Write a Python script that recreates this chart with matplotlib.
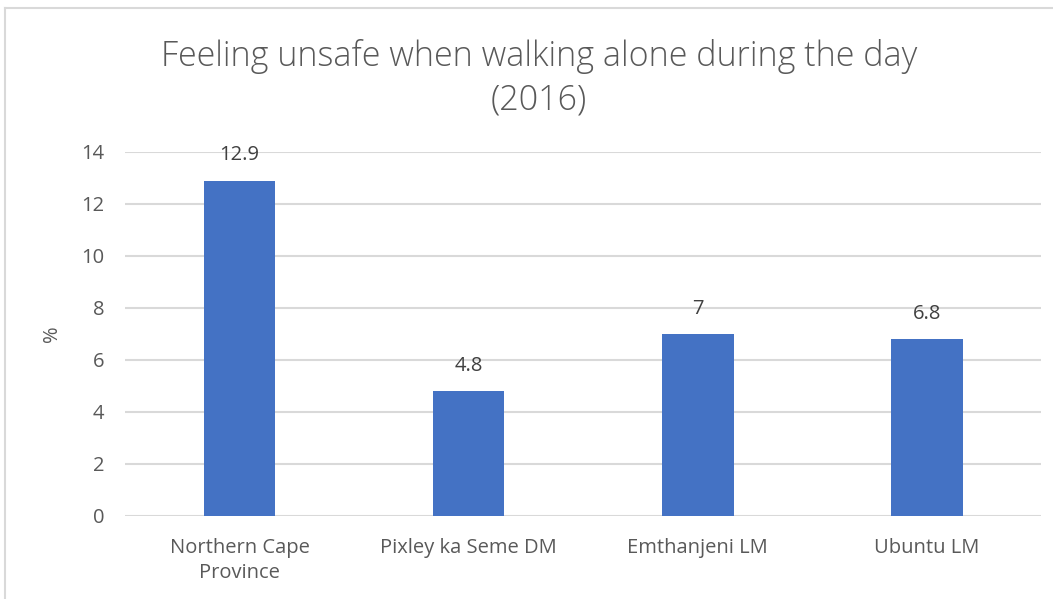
import matplotlib.pyplot as plt
from matplotlib.lines import Line2D

plt.rcParams['font.family'] = ['Open Sans', 'DejaVu Sans']

# Data
categories = ['Northern Cape\nProvince', 'Pixley ka Seme DM', 'Emthanjeni LM', 'Ubuntu LM']
values = [12.9, 4.8, 7, 6.8]
value_labels = ['12.9', '4.8', '7', '6.8']
yticks = [0, 2, 4, 6, 8, 10, 12, 14]

text_color = '#595959'
grid_color = '#d9d9d9'
bar_color = '#4472c4'
fs = 14.5

fig = plt.figure(figsize=(10.53, 5.99), dpi=100)
ax = fig.add_axes([0.1187, 0.1386, 0.870, 0.6077])

x = range(len(categories))
bars = ax.bar(x, values, width=0.314, color=bar_color, zorder=3)

for b, lab in zip(bars, value_labels):
    ax.annotate(lab, (b.get_x() + b.get_width() / 2, b.get_height()),
                xytext=(0, 11), textcoords='offset points',
                ha='center', va='bottom', fontsize=fs, color='#404040')

ax.set_xlim(-0.5, len(categories) - 0.5)
ax.set_ylim(0, 14)
ax.set_yticks(yticks)
ax.set_xticks(list(x))
ax.set_xticklabels(categories, fontsize=fs, color=text_color, linespacing=1.3)
ax.tick_params(axis='y', labelsize=fs, labelcolor=text_color, length=0, pad=15)
ax.tick_params(axis='x', length=0, pad=16)

ax.grid(axis='y', color=grid_color, linewidth=1.5, zorder=0)
for s in ax.spines.values():
    s.set_visible(False)

ax.set_ylabel('%', fontsize=fs, color=text_color, labelpad=14)

fig.text(0.512, 0.869, 'Feeling unsafe when walking alone during the day\n(2016)',
         ha='center', va='center', fontsize=24.5, color=text_color,
         fontweight='light', linespacing=1.32)

# light frame (top and left edges only are visible in the crop)
top = 1 - 7.5 / 599
left = 4.5 / 1053
fig.lines.append(Line2D([left, 1], [top, top], transform=fig.transFigure,
                        color='#d9d9d9', linewidth=1.5))
fig.lines.append(Line2D([left, left], [0, top], transform=fig.transFigure,
                        color='#d9d9d9', linewidth=1.5))

fig.savefig('out.png', dpi=100)
